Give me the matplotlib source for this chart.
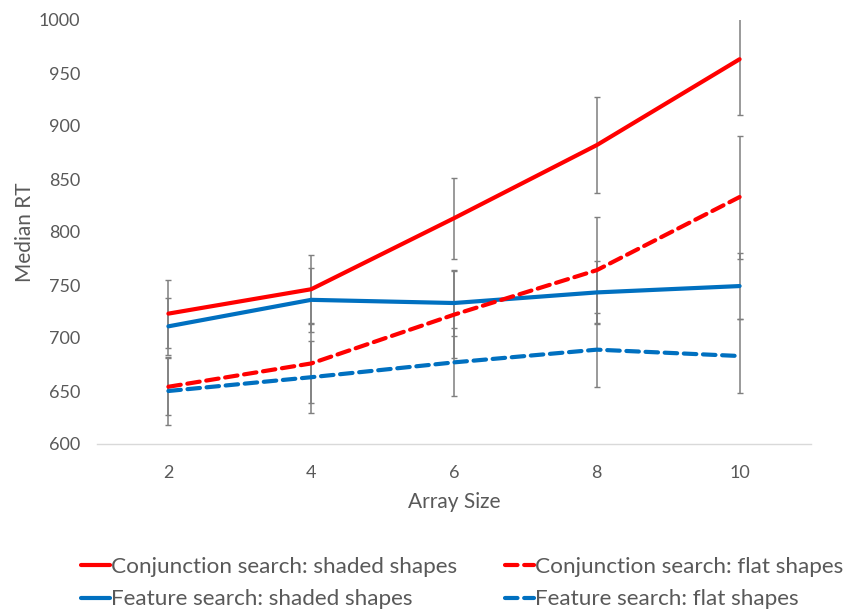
import matplotlib
matplotlib.use("Agg")
import matplotlib.pyplot as plt

plt.rcParams['font.family'] = ['Lato', 'DejaVu Sans']

array_sizes = [2, 4, 6, 8, 10]
x_labels = ["2", "4", "6", "8", "10"]

conj_shaded = [723, 746, 813, 882, 963]
conj_shaded_err = [32, 32, 38, 45, 53]
conj_flat = [654, 676, 722, 764, 833]
conj_flat_err = [27, 37, 41, 50, 58]
feat_shaded = [711, 736, 733, 743, 749]
feat_shaded_err = [27, 30, 31, 30, 31]
feat_flat = [650, 663, 677, 689, 683]
feat_flat_err = [32, 34, 32, 35, 35]

labels = ["Conjunction search: shaded shapes", "Feature search: shaded shapes",
          "Conjunction search: flat shapes", "Feature search: flat shapes"]

RED = "#FF0000"
BLUE = "#0070C0"
TXT = "#595959"

fig = plt.figure(figsize=(8.53, 6.12), dpi=100)
ax = fig.add_axes([97/853, 1 - 444/612, (811-97)/853, (444-20)/612])

series = [
    (conj_shaded, conj_shaded_err, RED, "-"),
    (feat_shaded, feat_shaded_err, BLUE, "-"),
    (conj_flat, conj_flat_err, RED, "--"),
    (feat_flat, feat_flat_err, BLUE, "--"),
]

handles = []
for (vals, err, col, ls), lab in zip(series, labels):
    ax.errorbar(array_sizes, vals, yerr=err, fmt="none", ecolor="#7F7F7F",
                elinewidth=1.1, capsize=2.5, capthick=1.0, zorder=2)
    if ls == "-":
        ln, = ax.plot(array_sizes, vals, color=col, lw=3.0, solid_capstyle="round",
                      zorder=3)
    else:
        ln, = ax.plot(array_sizes, vals, color=col, lw=3.0, dashes=(3, 1.6),
                      dash_capstyle="round", zorder=3)
    handles.append(ln)

ax.set_xlim(1, 11)
ax.set_ylim(600, 1000)
ax.set_yticks(range(600, 1001, 50))
ax.set_xticks(array_sizes)
ax.set_xticklabels(x_labels)

for s in ["top", "right", "left"]:
    ax.spines[s].set_visible(False)
ax.spines["bottom"].set_color("#D9D9D9")
ax.spines["bottom"].set_linewidth(1.0)
ax.tick_params(axis="both", length=0, labelsize=13, labelcolor=TXT)
ax.tick_params(axis="y", pad=12)
ax.tick_params(axis="x", pad=15)

ax.set_xlabel("Array Size", fontsize=15, color=TXT, labelpad=8)
ax.set_ylabel("Median RT", fontsize=15, color=TXT, labelpad=3)

leg = fig.legend(handles=handles, labels=labels, ncol=2, loc="upper left",
                 bbox_to_anchor=(72/853, 1 - 548/612), frameon=False,
                 fontsize=16.2, labelcolor=TXT, handlelength=1.3,
                 handletextpad=0.05, columnspacing=2.1, labelspacing=0.55,
                 borderaxespad=0)

fig.savefig("out.png", dpi=100)
